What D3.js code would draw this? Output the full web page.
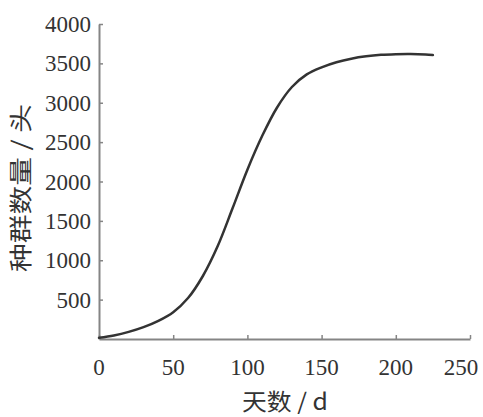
<!DOCTYPE html>
<html>
<head>
<meta charset="utf-8">
<script src="https://cdn.jsdelivr.net/npm/d3@7"></script>
<style>
  body { margin: 0; background: #fff; }
  svg { display: block; }
</style>
</head>
<body>
<svg id="chart" width="483" height="417"></svg>
<script>
// population growth curve
let days = [0, 10, 20, 30, 40, 50, 60, 70, 80, 90, 100, 110, 120, 130, 140, 150, 160, 170, 180, 190, 200, 210, 220, 225];
let population = [15, 45, 90, 150, 230, 340, 520, 800, 1180, 1660, 2150, 2580, 2940, 3200, 3360, 3450, 3515, 3560, 3590, 3608, 3616, 3618, 3612, 3605];

let xTicks = [0, 50, 100, 150, 200, 250];
let yTicks = [500, 1000, 1500, 2000, 2500, 3000, 3500, 4000];

let axisColor = "#858585";
let lineColor = "#333";
let textColor = "#333";

let svg = d3.select("#chart");

let xScale = d3.scaleLinear()
  .domain([0, 250])
  .range([99, 470]);

let yScale = d3.scaleLinear()
  .domain([0, 4000])
  .range([339, 24]);

// axes: lines and inward ticks only, labels drawn below
let xAxis = svg.append("g")
  .attr("transform", "translate(0," + yScale(0) + ")")
  .call(d3.axisBottom(xScale).tickValues(xTicks).tickFormat("")
    .tickSizeInner(-4).tickSizeOuter(0));
xAxis.select(".domain").attr("stroke", axisColor).attr("stroke-width", 2);
xAxis.selectAll(".tick line").attr("stroke", axisColor).attr("stroke-width", 1.5);

let yAxis = svg.append("g")
  .attr("transform", "translate(" + xScale(0) + ",0)")
  .call(d3.axisLeft(yScale).tickValues(yTicks).tickFormat("")
    .tickSizeInner(-4).tickSizeOuter(0));
yAxis.select(".domain").attr("stroke", axisColor).attr("stroke-width", 2);
yAxis.selectAll(".tick line").attr("stroke", axisColor).attr("stroke-width", 1.5);

// tick labels
svg.selectAll(".xLabel")
  .data(xTicks)
  .enter()
  .append("text")
    .attr("class", "xLabel")
    .attr("x", d => xScale(d) - (d == 250 ? 9 : 0))
    .attr("y", yScale(0) + 36)
    .attr("text-anchor", "middle")
    .style("font-family", "'Liberation Serif'")
    .style("font-size", "23px")
    .style("fill", textColor)
    .text(d => d);

svg.selectAll(".yLabel")
  .data(yTicks)
  .enter()
  .append("text")
    .attr("class", "yLabel")
    .attr("x", xScale(0) - 8)
    .attr("y", d => yScale(d) + 8)
    .attr("text-anchor", "end")
    .style("font-family", "'Liberation Serif'")
    .style("font-size", "23px")
    .style("fill", textColor)
    .text(d => d);

// the curve
let line = d3.line()
  .x((d, i) => xScale(days[i]))
  .y(d => yScale(d))
  .curve(d3.curveCatmullRom);

svg.append("path")
  .datum(population)
  .attr("d", line)
  .attr("fill", "none")
  .attr("stroke", lineColor)
  .attr("stroke-width", 2.5)
  .attr("stroke-linecap", "round");

// axis titles
svg.append("text")
  .attr("x", 285)
  .attr("y", 410)
  .attr("text-anchor", "middle")
  .attr("textLength", 86)
  .attr("lengthAdjust", "spacingAndGlyphs")
  .style("font-family", "'Noto Sans CJK SC'")
  .style("font-size", "23px")
  .style("fill", textColor)
  .text("天数 / d");

svg.append("text")
  .attr("transform", "translate(29,188) rotate(-90)")
  .attr("text-anchor", "middle")
  .attr("textLength", 168)
  .attr("lengthAdjust", "spacingAndGlyphs")
  .style("font-family", "'Noto Sans CJK SC'")
  .style("font-size", "23px")
  .style("fill", textColor)
  .text("种群数量 / 头");
</script>
</body>
</html>
